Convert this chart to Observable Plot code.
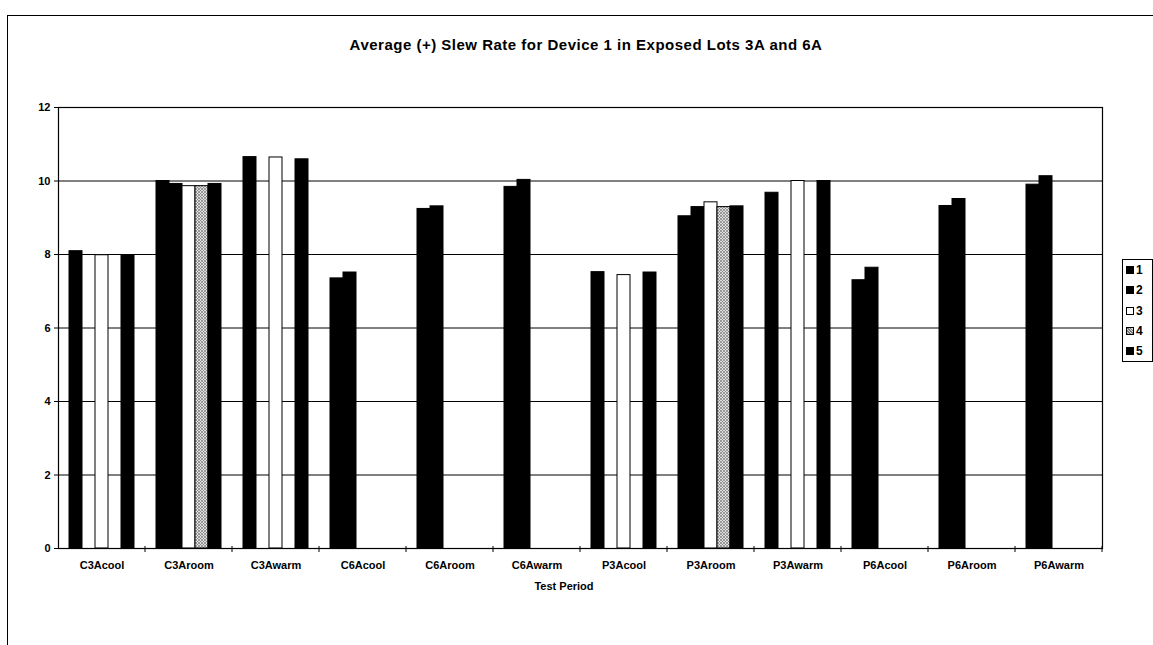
<!DOCTYPE html>
<html>
<head>
<meta charset="utf-8">
<script src="https://cdn.jsdelivr.net/npm/d3@7"></script>
<script src="https://cdn.jsdelivr.net/npm/@observablehq/plot@0.6"></script>
<style>
  body { margin: 0; background: #fff; }
  #wrap { position: relative; width: 1153px; height: 645px; overflow: hidden; background: #fff;
          font-family: "Liberation Sans", Arial, sans-serif; font-weight: bold; color: #000; }
  #border { position: absolute; left: 7px; top: 15px; width: 1300px; height: 800px;
            border-left: 1px solid #000; border-top: 1px solid #000; }
  #title { position: absolute; left: 0; top: 36px; width: 1172px; text-align: center;
           font-size: 15px; letter-spacing: 0.5px; line-height: 18px; }
  #chart { position: absolute; left: 0; top: 0; }
  #xlabel { position: absolute; left: 464px; width: 200px; top: 579px; text-align: center;
            font-size: 11px; line-height: 14px; }
  #legend { position: absolute; left: 1122px; top: 259px; width: 29px; height: 101px;
            border: 1px solid #000; font-size: 12px; background: #fff; }
  .item { height: 20.3px; line-height: 20.3px; padding-left: 3px; white-space: nowrap; }
  .sw { display: inline-block; width: 6px; height: 6px; border: 1px solid #000; vertical-align: 0px; margin-right: 2px; }
</style>
</head>
<body>
<div id="wrap">
  <div id="border"></div>
  <div id="chart"></div>
  <div id="title">Average (+) Slew Rate for Device 1 in Exposed Lots 3A and 6A</div>
  <div id="xlabel">Test Period</div>
  <div id="legend"></div>
</div>
<script>
// ---- data ----
const categories = ["C3Acool","C3Aroom","C3Awarm","C6Acool","C6Aroom","C6Awarm",
                    "P3Acool","P3Aroom","P3Awarm","P6Acool","P6Aroom","P6Awarm"];
const seriesNames = ["1","2","3","4","5"];
const series1 = [8.09, 10.00, 10.65, 7.35, 9.24,  9.84, 7.52, 9.04, 9.68, 7.30, 9.32,  9.90];
const series2 = [null, 9.92,  null,  7.51, 9.31, 10.03, null, 9.29, null, 7.64, 9.51, 10.13];
const series3 = [7.98, 9.86, 10.64, null, null,  null,  7.44, 9.42, 10.00, null, null, null];
const series4 = [null, 9.86,  null,  null, null,  null,  null, 9.29, null,  null, null, null];
const series5 = [7.98, 9.92, 10.59, null, null,  null,  7.51, 9.31, 10.00, null, null, null];
const yTicks = [0, 2, 4, 6, 8, 10, 12];
const fills = ["#000", "#000", "#fff", "url(#hatch4)", "#000"];

const allSeries = [series1, series2, series3, series4, series5];
const data = [];
categories.forEach((c, i) => {
  allSeries.forEach((arr, j) => {
    if (arr[i] != null) data.push({cat: c, s: seriesNames[j], v: arr[i]});
  });
});

const plot = Plot.plot({
  width: 1153,
  height: 645,
  marginTop: 107,
  marginBottom: 97,
  marginLeft: 57,
  marginRight: 51,
  style: {fontFamily: "'Liberation Sans', Arial, sans-serif", fontSize: "11px", fontWeight: "bold",
          color: "#000", background: "transparent", overflow: "visible"},
  fx: {domain: categories, padding: 0},
  x: {domain: seriesNames, paddingInner: 0, paddingOuter: 0.7, axis: null},
  y: {domain: [0, 12]},
  color: {type: "ordinal", domain: seriesNames, range: fills},
  marks: [
    Plot.ruleY(yTicks, {stroke: "#000", strokeWidth: 1}),
    Plot.barY(data, {fx: "cat", x: "s", y: "v", fill: "s", stroke: "#000", strokeWidth: 1, inset: 0}),
    Plot.frame({facet: "super", stroke: "#000", strokeWidth: 1.2}),
    Plot.axisY({ticks: yTicks, tickSize: 4, tickPadding: 4, label: null, tickFormat: d => String(d)}),
    Plot.axisFx({anchor: "bottom", tickSize: 0, tickPadding: 13, label: null})
  ]
});

// hatch pattern for series 4
d3.select(plot).insert("defs", ":first-child").html(
  `<pattern id="hatch4" width="3" height="3" patternUnits="userSpaceOnUse">
     <rect width="3" height="3" fill="#e0e0e0"/>
     <path d="M0,3 L3,0 M0,0 L3,3" stroke="#7a7a7a" stroke-width="0.7"/>
   </pattern>`);

// small tick marks at group boundaries on the category axis, derived from the fx scale
const fx = plot.scale("fx");
const ys = plot.scale("y");
const y0 = ys.apply(0);
const edges = categories.slice(1).map(c => fx.apply(c)).concat([fx.range[1]]);
d3.select(plot).append("g").attr("stroke", "#000").attr("stroke-width", 1)
  .selectAll("line").data(edges).join("line")
  .attr("x1", d => d).attr("x2", d => d)
  .attr("y1", y0 - 2).attr("y2", y0 + 4);

document.getElementById("chart").appendChild(plot);

// legend
const legend = d3.select("#legend");
seriesNames.forEach((s, j) => {
  const item = legend.append("div").attr("class", "item");
  const sw = item.append("span").attr("class", "sw");
  if (j === 3) {
    sw.style("background", "repeating-linear-gradient(45deg,#777 0 1px,#ddd 1px 2px)");
  } else {
    sw.style("background", fills[j]);
  }
  item.append("span").text(s);
});
</script>
</body>
</html>
